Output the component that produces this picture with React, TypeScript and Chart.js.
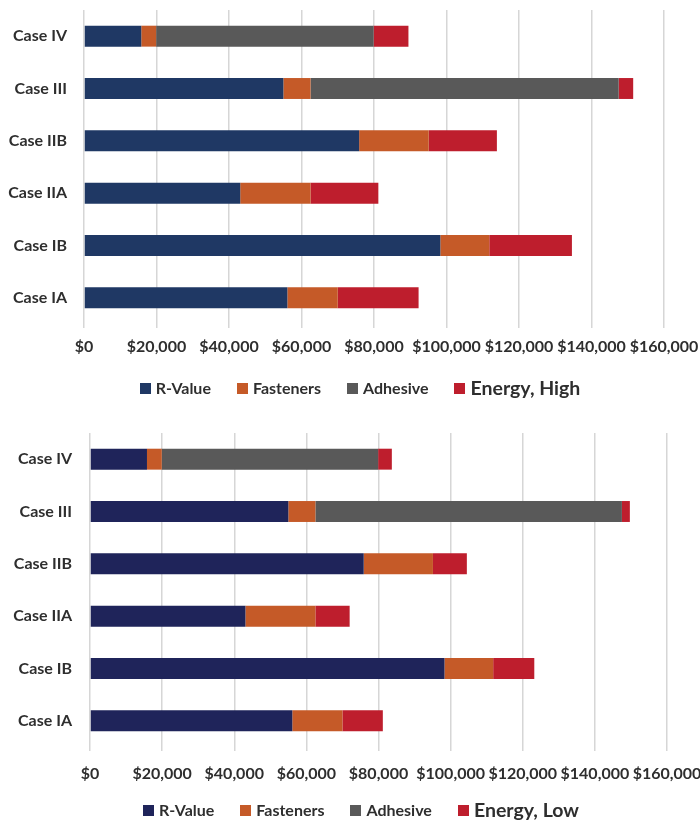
import React, { useEffect, useRef } from 'react';
import { Chart, registerables } from 'chart.js';

Chart.register(...registerables);

// Cost breakdown per case (US$), listed top to bottom as drawn
const cases = ['Case IV', 'Case III', 'Case IIB', 'Case IIA', 'Case IB', 'Case IA'];
const rValue = [15800, 55000, 75900, 43100, 98300, 56100];
const fasteners = [4100, 7500, 19200, 19400, 13500, 13900];
const adhesive = [60000, 85000, 0, 0, 0, 0];
const energyHigh = [9600, 4000, 18800, 18700, 22800, 22300];
const energyLow = [3800, 2200, 9400, 9500, 11400, 11200];
const tickValues = [0, 20000, 40000, 60000, 80000, 100000, 120000, 140000, 160000];
const seriesNames = ['R-Value', 'Fasteners', 'Adhesive'];

const FASTENER = '#c55a28';
const ADHESIVE = '#595959';
const ENERGY = '#be1e2d';
const GRID = '#d6d6d6';
const TEXT = '#2e2e2e';
const FONT = { family: 'Lato', size: 16, weight: 'bold' as const };

type PanelProps = {
  energy: number[];
  energyLabel: string;
  rColor: string;
  top: number;
  height: number;
  padTop: number;
  padBottom: number;
  yWidth: number;
  yPad: number;
  xRight: number;
  xHeight: number;
  xPad: number;
};

function Panel(p: PanelProps) {
  const ref = useRef<HTMLCanvasElement>(null);

  useEffect(() => {
    const chart = new Chart(ref.current as HTMLCanvasElement, {
      type: 'bar',
      data: {
        labels: cases,
        datasets: [
          { label: seriesNames[0], data: rValue, backgroundColor: p.rColor },
          { label: seriesNames[1], data: fasteners, backgroundColor: FASTENER },
          { label: seriesNames[2], data: adhesive, backgroundColor: ADHESIVE },
          { label: p.energyLabel, data: p.energy, backgroundColor: ENERGY },
        ],
      },
      options: {
        indexAxis: 'y',
        responsive: false,
        animation: false,
        devicePixelRatio: 1,
        layout: { padding: { left: 0, top: p.padTop, right: 0, bottom: p.padBottom } },
        datasets: { bar: { barPercentage: 0.4, categoryPercentage: 1 } },
        scales: {
          x: {
            stacked: true,
            min: 0,
            max: 160000,
            afterBuildTicks: (s: any) => {
              s.ticks = tickValues.map((v) => ({ value: v }));
            },
            afterFit: (s: any) => {
              s.height = p.xHeight;
              s.paddingLeft = 0;
              s.paddingRight = p.xRight;
            },
            grid: { color: GRID, lineWidth: 1.5, tickLength: 4, drawTicks: true },
            border: { display: false },
            ticks: {
              padding: p.xPad,
              color: TEXT,
              font: FONT,
              maxRotation: 0,
              autoSkip: false,
              callback: (v: any) => '$' + Number(v).toLocaleString('en-US'),
            },
          },
          y: {
            stacked: true,
            grid: { display: false, drawTicks: false },
            border: { display: false },
            ticks: { padding: p.yPad, color: TEXT, font: FONT },
            afterFit: (s: any) => {
              s.width = p.yWidth;
              s.paddingTop = 0;
              s.paddingBottom = 0;
            },
          },
        },
        plugins: {
          legend: { display: false },
          tooltip: { enabled: false },
        },
      },
    });
    return () => chart.destroy();
  }, []);

  return (
    <canvas
      ref={ref}
      width={700}
      height={p.height}
      style={{ position: 'absolute', left: 0, top: p.top, width: 700, height: p.height }}
    />
  );
}

type LegendProps = { top: number; left: number; rColor: string; energyLabel: string };

function Legend({ top, left, rColor, energyLabel }: LegendProps) {
  const items = [
    { name: seriesNames[0], color: rColor, size: 16 },
    { name: seriesNames[1], color: FASTENER, size: 16 },
    { name: seriesNames[2], color: ADHESIVE, size: 16 },
    { name: energyLabel, color: ENERGY, size: 19.5 },
  ];
  return (
    <div
      style={{
        position: 'absolute',
        top,
        left,
        right: 0,
        height: 24,
        display: 'flex',
        alignItems: 'center',
        justifyContent: 'center',
        gap: 26,
        fontFamily: 'Lato',
        fontWeight: 700,
        color: TEXT,
        whiteSpace: 'nowrap',
      }}
    >
      {items.map((it) => (
        <div key={it.name} style={{ display: 'flex', alignItems: 'center' }}>
          <span
            style={{ display: 'inline-block', width: 11, height: 11, background: it.color, marginRight: 5 }}
          />
          <span style={{ fontSize: it.size, lineHeight: '24px' }}>{it.name}</span>
        </div>
      ))}
    </div>
  );
}

export default function App() {
  return (
    <div
      style={{
        position: 'absolute',
        left: 0,
        top: 0,
        width: 700,
        height: 822,
        overflow: 'hidden',
        background: '#ffffff',
      }}
    >
      <Panel
        energy={energyHigh}
        energyLabel="Energy, High"
        rColor="#1f3864"
        top={0}
        height={410}
        padTop={10}
        padBottom={50}
        yWidth={84}
        yPad={17}
        xRight={36}
        xHeight={36}
        xPad={9}
      />
      <Legend top={376} left={20} rColor="#1f3864" energyLabel="Energy, High" />
      <Panel
        energy={energyLow}
        energyLabel="Energy, Low"
        rColor="#1f245a"
        top={410}
        height={412}
        padTop={23}
        padBottom={40}
        yWidth={90}
        yPad={18}
        xRight={33}
        xHeight={35}
        xPad={13}
      />
      <Legend top={798} left={22} rColor="#1f245a" energyLabel="Energy, Low" />
    </div>
  );
}
